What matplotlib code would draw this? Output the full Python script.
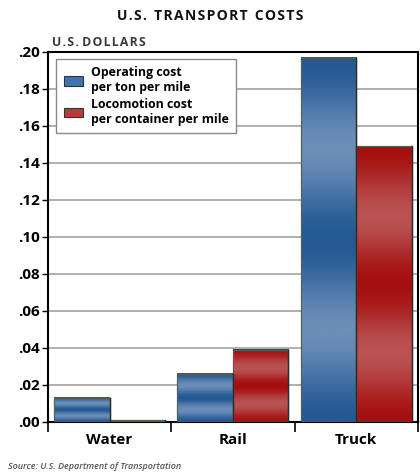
import matplotlib
matplotlib.use("Agg")
import matplotlib.pyplot as plt
import numpy as np
from matplotlib.colors import LinearSegmentedColormap
from matplotlib.patches import Patch

categories = ["Water", "Rail", "Truck"]
operating_cost = [0.013, 0.026, 0.197]
locomotion_cost = [0.001, 0.039, 0.149]
series_labels = ["Operating cost\nper ton per mile", "Locomotion cost\nper container per mile"]
yticks = [0.00, 0.02, 0.04, 0.06, 0.08, 0.10, 0.12, 0.14, 0.16, 0.18, 0.20]

plt.rcParams["font.family"] = ["Open Sans", "DejaVu Sans"]

blue_cmap = LinearSegmentedColormap.from_list("blue_band", ["#245994", "#6a8eb8"])
red_cmap = LinearSegmentedColormap.from_list("red_band", ["#a60f0f", "#b95252"])


def spaced(text):
    """Open up letter spacing with hair spaces."""
    return "\u200a".join(text)


fig = plt.figure(figsize=(4.2, 4.75), dpi=100)
ax = fig.add_axes([0.114, 0.1116, 0.881, 0.779])

x = np.arange(len(categories))
width = 0.45

# banded vertical shading: dark at ends and centre, lighter in between
t = np.linspace(0, 1, 200)
band = ((1 - np.cos(4 * np.pi * t)) / 2).reshape(-1, 1)


def shaded_bars(xpos, values, cmap):
    rects = ax.bar(xpos, values, width, facecolor="none", edgecolor="#4f6454",
                   linewidth=0.9, zorder=4)
    for r in rects:
        x0, y0, w, h = r.get_x(), r.get_y(), r.get_width(), r.get_height()
        ax.imshow(band, cmap=cmap, extent=[x0, x0 + w, y0, y0 + h],
                  aspect="auto", origin="upper", zorder=3, interpolation="bilinear")
        # darker right edge
        ax.plot([x0 + w, x0 + w], [y0, y0 + h], color="#2b2b2b", lw=1.0, zorder=5)
    return rects


shaded_bars(x - width / 2, operating_cost, blue_cmap)
shaded_bars(x + width / 2, locomotion_cost, red_cmap)

ax.set_xlim(-0.5, len(categories) - 0.5)
ax.set_ylim(0, 0.20)
ax.set_yticks(yticks)
ax.set_yticklabels([f"{v:.2f}"[1:] for v in yticks], fontsize=11, fontweight="bold")
ax.yaxis.grid(True, color="#9a9a9a", linewidth=1.1, zorder=0)
ax.set_axisbelow(True)

ax.set_xticks(x)
ax.set_xticklabels(categories, fontsize=11, fontweight="bold")
ax.tick_params(axis="x", length=0, pad=8)
ax.set_xticks(np.arange(-0.5, len(categories)), minor=True)
ax.tick_params(axis="x", which="minor", length=7, width=1.2, direction="out")
ax.tick_params(axis="y", length=4, width=1, direction="out", pad=2)

for s in ax.spines.values():
    s.set_linewidth(1.5)
    s.set_color("black")

handles = [Patch(facecolor="#3f74b0", edgecolor="#333333", linewidth=0.8),
           Patch(facecolor="#b83a3a", edgecolor="#333333", linewidth=0.8)]
leg = ax.legend(handles, series_labels, loc="upper left", bbox_to_anchor=(0.006, 0.998),
                prop={"size": 8.9, "weight": "bold"}, fancybox=False, framealpha=1,
                edgecolor="#8a8a8a", handlelength=1.6, handleheight=0.8,
                labelspacing=0.3, borderpad=0.6, handletextpad=0.6)
leg.get_frame().set_linewidth(1.0)
leg.set_zorder(6)

fig.text(0.5, 0.966, "  ".join(spaced(w) for w in ["U.S.", "TRANSPORT", "COSTS"]),
         ha="center", va="center", fontsize=10, fontweight="bold", color="#111111")
fig.text(0.125, 0.911, " ".join(spaced(w) for w in ["U.S.", "DOLLARS"]), ha="left",
         va="center", fontsize=8.8, fontweight="bold", color="#3a3a3a")
fig.text(0.018, 0.018, "Source: U.S. Department of Transportation", ha="left",
         va="center", fontsize=6.5, fontstyle="italic", fontweight="semibold",
         color="#555555")

fig.savefig("out.png", dpi=100)
